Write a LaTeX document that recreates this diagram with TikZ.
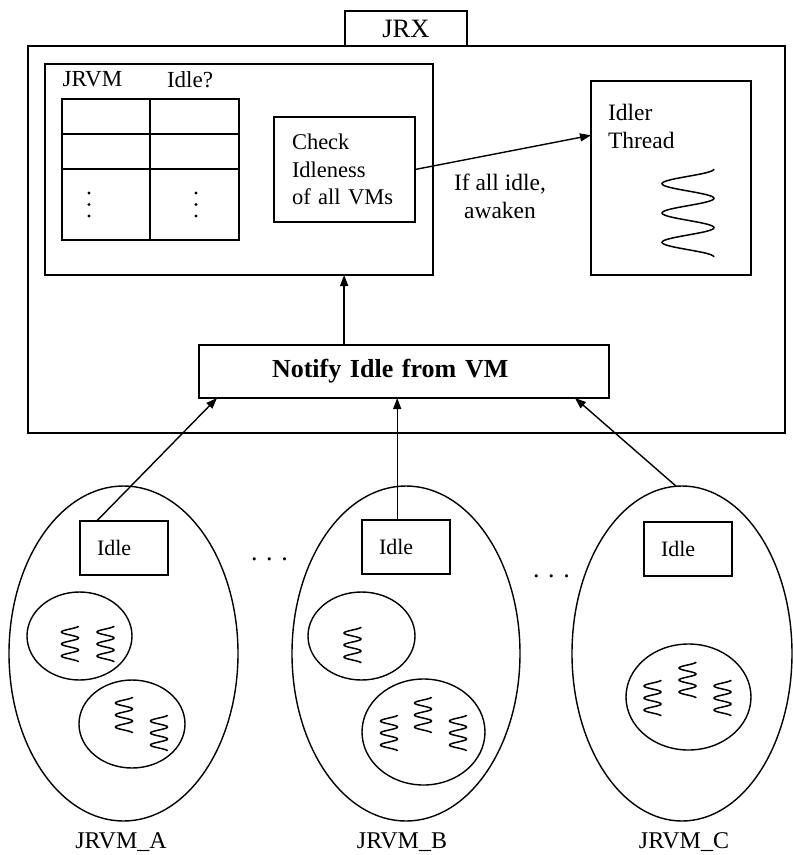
\documentclass[tikz,border=0pt]{standalone}
\usepackage{fontspec}
\setmainfont{Liberation Serif}
\usetikzlibrary{shapes.geometric, arrows.meta, calc}

\tikzset{
  box/.style={draw, rectangle, inner sep=0pt, outer sep=0pt},
  oval/.style={draw, ellipse, inner sep=0pt, outer sep=0pt},
  arr/.style={-{Triangle[length=11pt, width=8pt]}},
  txt/.style={inner sep=0pt, outer sep=0pt},
  idlebox/.style={box, anchor=north west, minimum width=88pt, minimum height=54pt,
    text width=54pt, inner xsep=17pt, align=left, font=\fontsize{22}{26}\selectfont},
  vmlabel/.style={txt, font=\fontsize{24}{28}\selectfont},
  dot/.style={fill, circle, inner sep=0pt, minimum size=3.2pt},
  % a running thread: three full waves drawn downwards from the top centre
  thread/.pic={\draw[line width=1.5pt] plot[domain=0:3, samples=91, smooth, variable=\t]
      ({cos(360*\t)/2}, {\t/3});},
}

\begin{document}
\begin{tikzpicture}[x=1pt, y=-1pt, line width=1.4pt]
\useasboundingbox (0,0) rectangle (793,855);

% ---------- JRX container ----------
\node[box, minimum width=122pt, minimum height=35pt, font=\fontsize{26.5}{30}\selectfont] (tab) at (406,28.5) {JRX};
\node[box, anchor=north west, minimum width=757pt, minimum height=387pt] (jrx) at (28,46) {};

% core: VM table and idleness check
\node[box, anchor=north west, minimum width=388pt, minimum height=211pt] (core) at (45,64) {};
\node[box, anchor=north west, minimum width=177pt, minimum height=141pt] (table) at (62,99) {};
\draw (table.north west) ++(88,0) -- ++(0,141);
\draw (table.north west) ++(0,35) -- ++(177,0);
\draw (table.north west) ++(0,70) -- ++(177,0);
\node[txt, font=\fontsize{23}{26}\selectfont] (colvm) at (92.5,79) {JRVM};
\node[txt, font=\fontsize{23}{26}\selectfont] (colidle) at (190,80) {Idle?};
\foreach \dx in {89,196}
  \foreach \dy in {193,204.5,216}
    \node[dot] at (\dx,\dy) {};

\node[box, anchor=north west, minimum width=141pt, minimum height=105pt, text width=105pt,
      inner xsep=18pt, align=left, font=\fontsize{22.5}{27.5}\selectfont] (check) at (274,117)
      {Check\\Idleness\\of all VMs};

% idler thread
\node[box, anchor=north west, minimum width=160pt, minimum height=194pt] (idler) at (591,81) {};
\node[txt, anchor=north west, align=left, font=\fontsize{23.5}{28}\selectfont] (idlerlbl) at (608,104) {Idler\\Thread};
\pic[xscale=52, yscale=88] at (688,169) {thread};

\coordinate (wake) at ($(idler.north west)!0.28!(idler.south west)$);
\draw[arr] (check.east) -- (wake);
\node[txt, align=center, font=\fontsize{23.5}{28}\selectfont] (cond) at (500,196) {If all idle,\\awaken};

% notification entry
\node[box, anchor=north west, minimum width=410pt, minimum height=53pt, text width=264pt,
      inner xsep=73pt, align=left, font=\bfseries\fontsize{26}{30}\selectfont] (notify) at (199,345)
      {Notify Idle from VM};
\coordinate (up) at ($(notify.north west)!0.354!(notify.north east)$);
\draw[arr] (up) -- (up |- core.south);

% ---------- JRVMs ----------
\node[oval, minimum width=229pt, minimum height=335pt] (vmA) at (123.5,653.5) {};
\node[oval, minimum width=228pt, minimum height=335pt] (vmB) at (406,653.5) {};
\node[oval, minimum width=220pt, minimum height=335pt] (vmC) at (682,653.5) {};

\node[idlebox] (idleA) at (80,521) {Idle};
\node[idlebox] (idleB) at (362,520) {Idle};
\node[idlebox] (idleC) at (644,522) {Idle};

% thread groups
\node[oval, minimum width=105pt, minimum height=88pt] (gA1) at (79.5,636) {};
\node[oval, minimum width=106pt, minimum height=88pt] (gA2) at (132,724) {};
\node[oval, minimum width=107pt, minimum height=88pt] (gB1) at (361.5,636) {};
\node[oval, minimum width=123pt, minimum height=106pt] (gB2) at (423.5,732) {};
\node[oval, minimum width=125pt, minimum height=106pt] (gC1) at (688.5,697) {};

\foreach \cx/\ty in {70/626, 105.5/626, 124/697, 159/715, 352.5/627,
                     389/715, 423/697, 458/715, 652.5/680, 687.5/662, 722.5/680}
  \pic[xscale=17, yscale=36] at (\cx,\ty) {thread};

% notifications to JRX
\coordinate (a0) at ($(idleA.north west)!0.19!(idleA.north east)$);
\coordinate (a1) at ($(notify.south west)!0.044!(notify.south east)$);
\coordinate (b0) at ($(idleB.north west)!0.40!(idleB.north east)$);
\coordinate (c1) at ($(notify.south west)!0.917!(notify.south east)$);
\draw[arr] (a0) -- (a1);
\draw[arr] (b0) -- (b0 |- notify.south);
\draw[arr] (vmC.92) -- (c1);

% elided VMs
\node[txt, font=\fontsize{26}{30}\selectfont] (gap1) at (269.5,559) {. . .};
\node[txt, font=\fontsize{26}{30}\selectfont] (gap2) at (551.5,576) {. . .};

\node[vmlabel] (lblA) at (121,842) {JRVM\_A};
\node[vmlabel] (lblB) at (402,842) {JRVM\_B};
\node[vmlabel] (lblC) at (684,842) {JRVM\_C};
\end{tikzpicture}
\end{document}
